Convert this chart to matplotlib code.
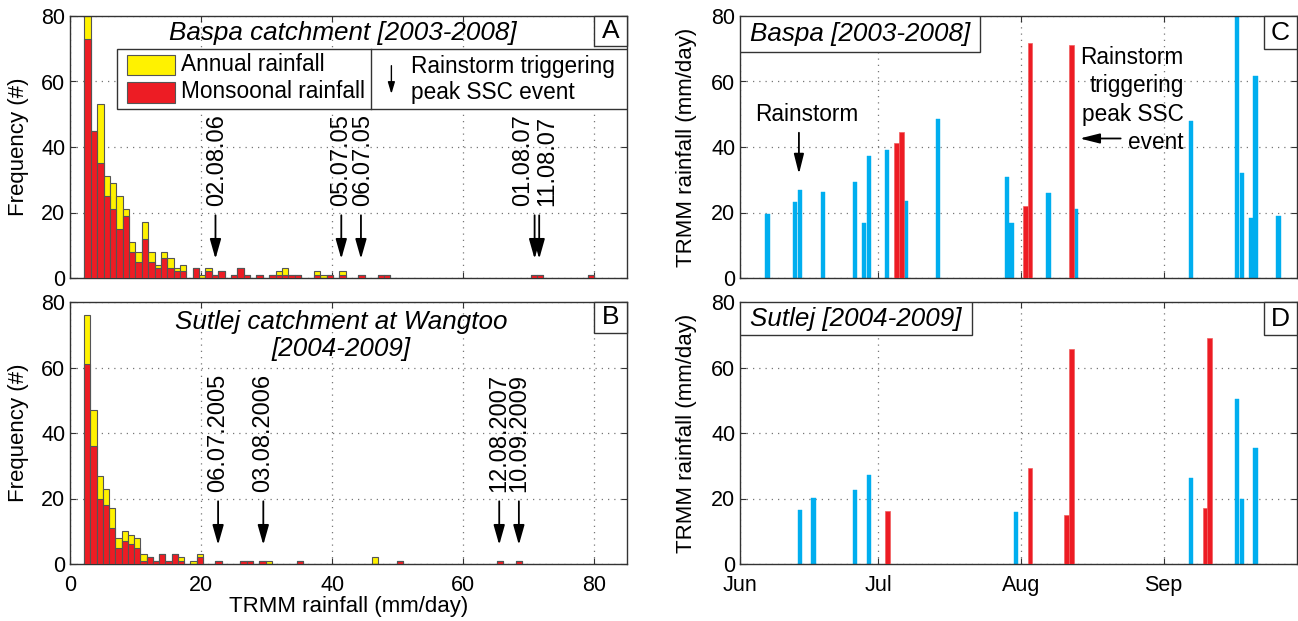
import numpy as np
import matplotlib
matplotlib.use('Agg')
import matplotlib.pyplot as plt
from matplotlib.patches import Rectangle

plt.rcParams['font.family'] = ['Liberation Sans', 'DejaVu Sans']
plt.rcParams['font.size'] = 15

# ---- histogram data (counts per bin) ----
# Baspa: 80 bins between 2.2 and 80.0 mm/day
baspa_range = (2.2, 80.0)
baspa_annual = [84, 45, 53, 31, 29, 25, 21, 11, 8, 17, 8, 4, 8, 6, 3, 4, 0, 3, 1, 3,
                1, 2, 0, 1, 3, 1, 0, 1, 0, 1, 2, 3, 1, 1, 0, 0, 2, 1, 1, 0,
                2, 0, 0, 1, 0, 0, 1, 1, 0, 0, 0, 0, 0, 0, 0, 0, 0, 0, 0, 0,
                0, 0, 0, 0, 0, 0, 0, 0, 0, 0, 1, 1, 0, 0, 0, 0, 0, 0, 0, 1]
baspa_monsoon = [73, 45, 35, 25, 21, 15, 19, 8, 5, 12, 5, 3, 6, 3, 2, 2, 0, 3, 0, 2,
                 1, 2, 0, 1, 3, 1, 0, 1, 0, 1, 1, 1, 1, 1, 0, 0, 1, 0, 1, 0,
                 1, 0, 0, 1, 0, 0, 1, 1, 0, 0, 0, 0, 0, 0, 0, 0, 0, 0, 0, 0,
                 0, 0, 0, 0, 0, 0, 0, 0, 0, 0, 1, 1, 0, 0, 0, 0, 0, 0, 0, 1]
# Sutlej: 70 bins between 2.14 and 69.0 mm/day
sutlej_range = (2.14, 69.0)
sutlej_annual = [76, 47, 27, 23, 17, 8, 10, 9, 8, 3, 2, 1, 3, 1, 3, 2, 0, 1, 3, 0,
                 0, 1, 0, 0, 0, 1, 1, 0, 1, 1, 0, 0, 0, 0, 1, 0, 0, 0, 0, 0,
                 0, 0, 0, 0, 0, 0, 2, 0, 0, 0, 1, 0, 0, 0, 0, 0, 0, 0, 0, 0,
                 0, 0, 0, 0, 0, 0, 1, 0, 0, 1]
sutlej_monsoon = [61, 36, 20, 18, 11, 5, 7, 6, 5, 1, 2, 1, 3, 1, 3, 1, 0, 0, 2, 0,
                  0, 1, 0, 0, 0, 1, 1, 0, 1, 0, 0, 0, 0, 0, 1, 0, 0, 0, 0, 0,
                  0, 0, 0, 0, 0, 0, 0, 0, 0, 0, 1, 0, 0, 0, 0, 0, 0, 0, 0, 0,
                  0, 0, 0, 0, 0, 0, 1, 0, 0, 1]

# peak SSC events (rainfall mm/day)
baspa_events = ['02.08.06', '05.07.05', '06.07.05', '01.08.07', '11.08.07']
baspa_event_rain = [22.2, 41.4, 44.4, 70.9, 71.6]
baspa_label_shift = [0.2, 0.0, 0.3, -1.7, 1.3]
sutlej_events = ['06.07.2005', '03.08.2006', '12.08.2007', '10.09.2009']
sutlej_event_rain = [22.6, 29.5, 65.5, 68.5]

# ---- daily rainstorms, days after 1 June ----
baspa_day = [6, 12, 13, 18, 25, 27, 28, 32, 34, 35, 36, 43, 58, 59, 62, 63, 67, 72, 73,
             98, 108, 109, 111, 112, 117]
baspa_rain = [19.4, 23.3, 26.8, 26.3, 29.2, 16.9, 37.1, 39.2, 41.2, 44.7, 23.4, 48.4,
              30.9, 16.9, 21.9, 71.8, 25.9, 71.2, 21.2, 47.8, 85.0, 32.0, 18.2, 61.8, 19.0]
baspa_peak = [0, 0, 0, 0, 0, 0, 0, 0, 1, 1, 0, 0, 0, 0, 1, 1, 0, 1, 0, 0, 0, 0, 0, 0, 0]
sutlej_day = [13, 16, 25, 28, 32, 60, 63, 71, 72, 98, 101, 102, 108, 109, 112]
sutlej_rain = [16.4, 20.3, 22.5, 27.1, 16.2, 15.9, 29.2, 15.0, 65.6, 26.2, 17.1, 69.0,
               50.4, 19.8, 35.5]
sutlej_peak = [0, 0, 0, 0, 1, 0, 1, 1, 1, 0, 1, 1, 0, 0, 0]

month_days = [0, 30, 61, 92]
month_names = ['Jun', 'Jul', 'Aug', 'Sep']

YEL = '#fff200'
RED = '#ed1c24'
BLUE = '#00aeef'
EDGE = '#555555'
FRAME = '#333333'
TITLE_FS = 18.7
NOTE_FS = 16.3

W, H = 1298, 621
fig = plt.figure(figsize=(W / 100, H / 100), dpi=100)


def box(l, t, r, b):
    return [l / W, 1 - b / H, (r - l) / W, (b - t) / H]


def style(ax):
    for s in ax.spines.values():
        s.set_color(FRAME)
        s.set_linewidth(1.0)
    ax.tick_params(direction='in', top=True, right=True, length=4, color=FRAME, labelsize=15.5)
    ax.tick_params(axis='x', pad=8)
    ax.grid(True, linestyle=(0, (1, 4)), color='#777777', linewidth=0.9)
    ax.set_axisbelow(True)


def letter(ax, s, x0, y0):
    ax.add_patch(Rectangle((x0, y0), 1 - x0, 1 - y0, transform=ax.transAxes,
                           facecolor='white', edgecolor=FRAME, lw=1, zorder=6, clip_on=False))
    ax.text((x0 + 1) / 2, (y0 + 1) / 2, s, transform=ax.transAxes, ha='center',
            va='center', fontsize=19, zorder=7)


def hist_panel(ax, rng, annual, monsoon):
    edges = np.linspace(rng[0], rng[1], len(annual) + 1)
    w = edges[1] - edges[0]
    a = np.array(annual)
    m = np.array(monsoon)
    ka = a > 0
    km = m > 0
    ax.bar(edges[:-1][ka], a[ka], width=w, align='edge', color=YEL, edgecolor=EDGE,
           linewidth=0.8, zorder=2)
    ax.bar(edges[:-1][km], m[km], width=w, align='edge', color=RED, edgecolor=EDGE,
           linewidth=0.8, zorder=3)
    ax.set_xlim(0, 85)
    ax.set_ylim(0, 80)
    ax.set_xticks([0, 20, 40, 60, 80])
    ax.set_yticks([0, 20, 40, 60, 80])
    ax.set_ylabel('Frequency (#)', fontsize=16)
    ax.yaxis.set_label_coords(-0.074, 0.5)
    style(ax)


def event_arrows(ax, names, rain, shift):
    for n, r, s in zip(names, rain, shift):
        ax.annotate('', xy=(r, 5), xytext=(r, 20),
                    arrowprops=dict(arrowstyle='-|>,head_length=0.6,head_width=0.17',
                                    color='black', lw=1.3, mutation_scale=20), zorder=5)
        ax.text(r + s, 22, n, rotation=90, ha='center', va='bottom', fontsize=17, zorder=5)


def rain_panel(ax, day, rain, peak):
    day = np.array(day)
    rain = np.array(rain)
    peak = np.array(peak, dtype=bool)
    ax.bar(day[~peak], rain[~peak], width=0.95, color=BLUE, edgecolor=BLUE, linewidth=0.3, zorder=2)
    ax.bar(day[peak], rain[peak], width=1.05, color=RED, edgecolor='#f06060', linewidth=0.5, zorder=3)
    ax.set_xlim(0, 121)
    ax.set_ylim(0, 80)
    ax.set_xticks(month_days)
    ax.set_yticks([0, 20, 40, 60, 80])
    ax.set_ylabel('TRMM rainfall (mm/day)', fontsize=16)
    ax.yaxis.set_label_coords(-0.077, 0.5)
    style(ax)


# ---- A: Baspa histogram ----
axA = fig.add_axes(box(70, 16, 627, 278))
hist_panel(axA, baspa_range, baspa_annual, baspa_monsoon)
axA.set_xticklabels([])
event_arrows(axA, baspa_events, baspa_event_rain, baspa_label_shift)
axA.text(0.49, 0.937, 'Baspa catchment [2003-2008]', transform=axA.transAxes,
         ha='center', va='center', fontsize=TITLE_FS, style='italic', zorder=7)
letter(axA, 'A', 0.941, 0.885)
# legend
axA.add_patch(Rectangle((0.0845, 0.645), 0.9155, 0.229, transform=axA.transAxes,
                        facecolor='white', edgecolor=FRAME, lw=1, zorder=6))
axA.plot([0.540, 0.540], [0.645, 0.874], transform=axA.transAxes, color=FRAME, lw=1, zorder=7)
axA.add_patch(Rectangle((0.102, 0.775), 0.087, 0.076, transform=axA.transAxes,
                        facecolor=YEL, edgecolor=EDGE, lw=0.8, zorder=7))
axA.add_patch(Rectangle((0.102, 0.669), 0.087, 0.080, transform=axA.transAxes,
                        facecolor=RED, edgecolor=EDGE, lw=0.8, zorder=7))
axA.text(0.200, 0.813, 'Annual rainfall', transform=axA.transAxes, va='center', fontsize=NOTE_FS, zorder=7)
axA.text(0.200, 0.710, 'Monsoonal rainfall', transform=axA.transAxes, va='center', fontsize=NOTE_FS, zorder=7)
axA.annotate('', xy=(0.577, 0.692), xytext=(0.577, 0.821), xycoords='axes fraction',
             arrowprops=dict(arrowstyle='-|>,head_length=0.5,head_width=0.15', color='black',
                             lw=1, mutation_scale=14), zorder=8)
axA.text(0.612, 0.758, 'Rainstorm triggering\npeak SSC event', transform=axA.transAxes,
         va='center', fontsize=NOTE_FS, linespacing=1.15, zorder=7)

# ---- B: Sutlej histogram ----
axB = fig.add_axes(box(70, 302, 627, 564))
hist_panel(axB, sutlej_range, sutlej_annual, sutlej_monsoon)
event_arrows(axB, sutlej_events, sutlej_event_rain, [0] * len(sutlej_events))
axB.set_xlabel('TRMM rainfall (mm/day)', fontsize=16, labelpad=0)
axB.text(0.487, 0.872, 'Sutlej catchment at Wangtoo\n[2004-2009]', transform=axB.transAxes,
         ha='center', va='center', fontsize=TITLE_FS, style='italic', linespacing=1.2, zorder=7)
letter(axB, 'B', 0.941, 0.882)

# ---- C: Baspa daily rainfall ----
axC = fig.add_axes(box(740, 16, 1297, 278))
rain_panel(axC, baspa_day, baspa_rain, baspa_peak)
axC.set_xticklabels([])
axC.add_patch(Rectangle((0, 0.864), 0.431, 0.136, transform=axC.transAxes,
                        facecolor='white', edgecolor=FRAME, lw=1, zorder=6))
axC.text(0.018, 0.931, 'Baspa [2003-2008]', transform=axC.transAxes, va='center',
         fontsize=TITLE_FS, style='italic', zorder=7)
letter(axC, 'C', 0.941, 0.874)
axC.text(14.5, 49.8, 'Rainstorm', ha='center', va='center', fontsize=NOTE_FS)
axC.annotate('', xy=(12.8, 30.9), xytext=(12.8, 45.2),
             arrowprops=dict(arrowstyle='-|>,head_length=0.6,head_width=0.15',
                             color='black', lw=1.3, mutation_scale=20))
axC.text(96.4, 54.4, 'Rainstorm\ntriggering\npeak SSC\nevent', ha='right', va='center',
         fontsize=NOTE_FS, linespacing=1.3)
axC.annotate('', xy=(73.2, 42.6), xytext=(83.3, 42.6),
             arrowprops=dict(arrowstyle='-|>,head_length=0.6,head_width=0.15',
                             color='black', lw=1.3, mutation_scale=20))

# ---- D: Sutlej daily rainfall ----
axD = fig.add_axes(box(740, 302, 1297, 564))
rain_panel(axD, sutlej_day, sutlej_rain, sutlej_peak)
axD.set_xticklabels(month_names)
axD.add_patch(Rectangle((0, 0.874), 0.416, 0.126, transform=axD.transAxes,
                        facecolor='white', edgecolor=FRAME, lw=1, zorder=6))
axD.text(0.018, 0.937, 'Sutlej [2004-2009]', transform=axD.transAxes, va='center',
         fontsize=TITLE_FS, style='italic', zorder=7)
letter(axD, 'D', 0.941, 0.874)

fig.savefig('out.png', dpi=100)
